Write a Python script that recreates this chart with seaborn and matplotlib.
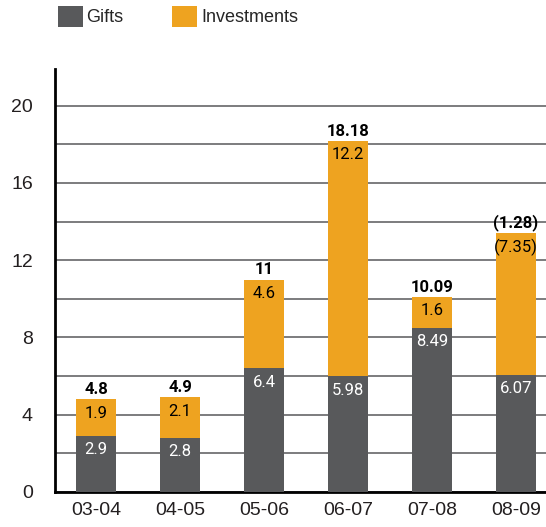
import matplotlib
matplotlib.use("Agg")
import matplotlib.pyplot as plt
from matplotlib.patches import Patch
import pandas as pd
import seaborn as sns

YEARS = ["03-04", "04-05", "05-06", "06-07", "07-08", "08-09"]
GIFTS = [2.9, 2.8, 6.4, 5.98, 8.49, 6.07]
INVESTMENTS = [1.9, 2.1, 4.6, 12.2, 1.6, -7.35]
GIFT_LABELS = ["2.9", "2.8", "6.4", "5.98", "8.49", "6.07"]
INV_LABELS = ["1.9", "2.1", "4.6", "12.2", "1.6", "(7.35)"]
TOTAL_LABELS = ["4.8", "4.9", "11", "18.18", "10.09", "(1.28)"]

GRAY = "#58595b"
ORANGE = "#eea320"
NARROW = ["Liberation Sans Narrow", "DejaVu Sans Condensed", "Roboto", "DejaVu Sans"]

sns.set_style("white")
plt.rcParams["font.family"] = ["Liberation Sans", "DejaVu Sans"]

df = pd.DataFrame({"year": YEARS, "gifts": GIFTS, "inv": INVESTMENTS})
# investments drawn by magnitude, stacked on the gifts
df["top"] = df["gifts"] + df["inv"].abs()

fig = plt.figure(figsize=(5.46, 5.27), dpi=100)
ax = fig.add_axes([55 / 546, 1 - 492 / 527, 1 - 55 / 546, (492 - 69) / 527])

sns.barplot(data=df, x="year", y="top", color=ORANGE, width=0.476,
            saturation=1, linewidth=0, edgecolor="none", ax=ax, zorder=3)
sns.barplot(data=df, x="year", y="gifts", color=GRAY, width=0.476,
            saturation=1, linewidth=0, edgecolor="none", ax=ax, zorder=4)

for i, row in df.iterrows():
    ax.annotate(GIFT_LABELS[i], (i, row["gifts"]), xytext=(0, -4.5),
                textcoords="offset points", ha="center", va="top",
                color="white", fontsize=12, family=NARROW, zorder=5)
    ax.annotate(INV_LABELS[i], (i, row["top"]), xytext=(0, -4.5),
                textcoords="offset points", ha="center", va="top",
                color="black", fontsize=12, family=NARROW, zorder=5)
    ax.annotate(TOTAL_LABELS[i], (i, row["top"]), xytext=(0, 1.5),
                textcoords="offset points", ha="center", va="bottom",
                color="black", fontsize=12, fontweight="bold",
                family=NARROW, zorder=5)

ax.set_xlim(-0.49, 5.36)
ax.set_ylim(0, 21.9)
ax.set_yticks([0, 4, 8, 12, 16, 20])
ax.set_yticks([2, 6, 10, 14, 18], minor=True)
ax.yaxis.grid(True, which="both", color="#58595b", linewidth=1.1, zorder=0)
ax.set_axisbelow(True)
ax.set_xlabel("")
ax.set_ylabel("")
ax.tick_params(axis="both", length=0, labelsize=14, colors="#231f20")
ax.tick_params(axis="y", pad=16)
ax.tick_params(axis="x", pad=7)
for side in ["top", "right"]:
    ax.spines[side].set_visible(False)
for side in ["left", "bottom"]:
    ax.spines[side].set_color("black")
    ax.spines[side].set_linewidth(2)

handles = [Patch(facecolor=GRAY, edgecolor="none"),
           Patch(facecolor=ORANGE, edgecolor="none")]
fig.legend(handles, ["Gifts", "Investments"], loc="upper left",
           bbox_to_anchor=(58 / 546, 1 - 6 / 527), ncol=2, frameon=False,
           borderpad=0, borderaxespad=0, handlelength=1.38,
           handleheight=1.38, handletextpad=0.2, columnspacing=2.7,
           fontsize=13)

fig.savefig("out.png", dpi=100)
